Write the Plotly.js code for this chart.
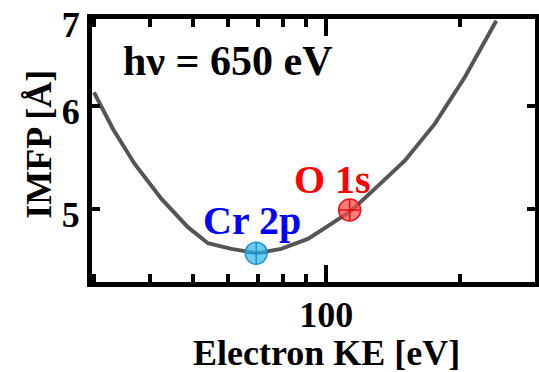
<!DOCTYPE html>
<html>
<head>
<meta charset="utf-8">
<script src="https://cdn.plot.ly/plotly-3.0.1.min.js"></script>
<style>html,body{margin:0;padding:0;background:#fff;}#chart{width:539px;height:372px;}</style>
</head>
<body>
<div id="chart"></div>
<script>
// IMFP curve (Electron KE in eV, IMFP in Å)
const curveKE   = [29.94, 33.04, 36.98, 42.5, 48.75, 54.1, 61.08, 69.54, 79.1, 90.9, 102.6, 113.8, 128.6, 150.3, 175.6, 205.2, 241.7];
const curveIMFP = [6.138, 5.781, 5.44, 5.099, 4.824, 4.668, 4.6125, 4.571, 4.6125, 4.71, 4.856, 4.985, 5.197, 5.472, 5.83, 6.284, 6.835];

// Highlighted core levels
const levelNames = ['Cr 2p', 'O 1s'];
const levelKE    = [69.5, 112.9];
const levelIMFP  = [4.571, 4.992];

// Axis ticks
const xMajorTicks = [100];
const xMajorText  = ['100'];
const xMinorTicks = [30, 40, 50, 60, 70, 80, 90, 200, 300];
const yTicks      = [5, 6, 6.85];
const yTickText   = ['5', '6', '7'];

const FONT = 'Liberation Serif, Times New Roman, serif';

const traces = [
  {
    x: curveKE, y: curveIMFP, type: 'scatter', mode: 'lines',
    line: {color: '#555555', width: 4}, hoverinfo: 'skip', showlegend: false
  },
  {
    x: [levelKE[0]], y: [levelIMFP[0]], type: 'scatter', mode: 'markers',
    marker: {symbol: 'circle-cross', size: 22, color: 'rgba(60,185,235,0.75)',
             line: {color: 'rgba(20,140,200,0.9)', width: 1.5}},
    showlegend: false
  },
  {
    x: [levelKE[1]], y: [levelIMFP[1]], type: 'scatter', mode: 'markers',
    marker: {symbol: 'circle-cross', size: 22, color: 'rgba(255,70,70,0.7)',
             line: {color: 'rgba(230,0,0,0.9)', width: 1.5}},
    showlegend: false
  }
];

const layout = {
  width: 539, height: 372,
  margin: {l: 92, r: 4, t: 19, b: 90},
  paper_bgcolor: '#fff', plot_bgcolor: '#fff',
  showlegend: false,
  font: {family: FONT, color: '#000', size: 36, weight: 'bold'},
  xaxis: {
    type: 'log',
    range: [Math.log10(29.63), Math.log10(295.5)],
    showgrid: false, zeroline: false,
    showline: true, linecolor: '#000', linewidth: 5, mirror: 'ticks',
    ticks: 'inside', ticklen: 17, tickwidth: 4, tickcolor: '#000',
    tickmode: 'array', tickvals: xMajorTicks, ticktext: xMajorText,
    ticklabelstandoff: -3,
    tickfont: {family: FONT, size: 36, color: '#000', weight: 'bold'},
    minor: {tickmode: 'array', tickvals: xMinorTicks, ticks: 'inside', ticklen: 8, tickwidth: 4, tickcolor: '#000', showgrid: false}
  },
  yaxis: {
    range: [4.29, 6.852],
    showgrid: false, zeroline: false,
    showline: true, linecolor: '#000', linewidth: 5, mirror: 'ticks',
    ticks: 'inside', ticklen: 8, tickwidth: 4, tickcolor: '#000',
    tickmode: 'array', tickvals: yTicks, ticktext: yTickText,
    ticklabelshift: 5, ticklabeloverflow: 'allow',
    tickfont: {family: FONT, size: 36, color: '#000', weight: 'bold'}
  },
  annotations: [
    {text: 'Electron KE [eV]', xref: 'paper', yref: 'paper', x: 0.529, y: -0.27,
     xanchor: 'center', yanchor: 'middle', showarrow: false,
     font: {family: FONT, size: 36, color: '#000', weight: 'bold'}},
    {text: 'IMFP [Å]', xref: 'paper', yref: 'paper', x: -0.12, y: 0.525, textangle: -90,
     xanchor: 'center', yanchor: 'middle', showarrow: false,
     font: {family: FONT, size: 36, color: '#000', weight: 'bold'}},
    {text: 'hν = 650 eV', xref: 'paper', yref: 'paper', x: 0.306, y: 0.842,
     xanchor: 'center', yanchor: 'middle', showarrow: false,
     font: {family: FONT, size: 42, color: '#000', weight: 'bold'}},
    {text: levelNames[0], xref: 'paper', yref: 'paper', x: 0.361, y: 0.232,
     xanchor: 'center', yanchor: 'middle', showarrow: false,
     font: {family: FONT, size: 40, color: '#0000ff', weight: 'bold'}},
    {text: levelNames[1], xref: 'paper', yref: 'paper', x: 0.543, y: 0.388,
     xanchor: 'center', yanchor: 'middle', showarrow: false,
     font: {family: FONT, size: 40, color: '#ff0000', weight: 'bold'}}
  ]
};

Plotly.newPlot('chart', traces, layout, {displayModeBar: false, staticPlot: true});
</script>
</body>
</html>
